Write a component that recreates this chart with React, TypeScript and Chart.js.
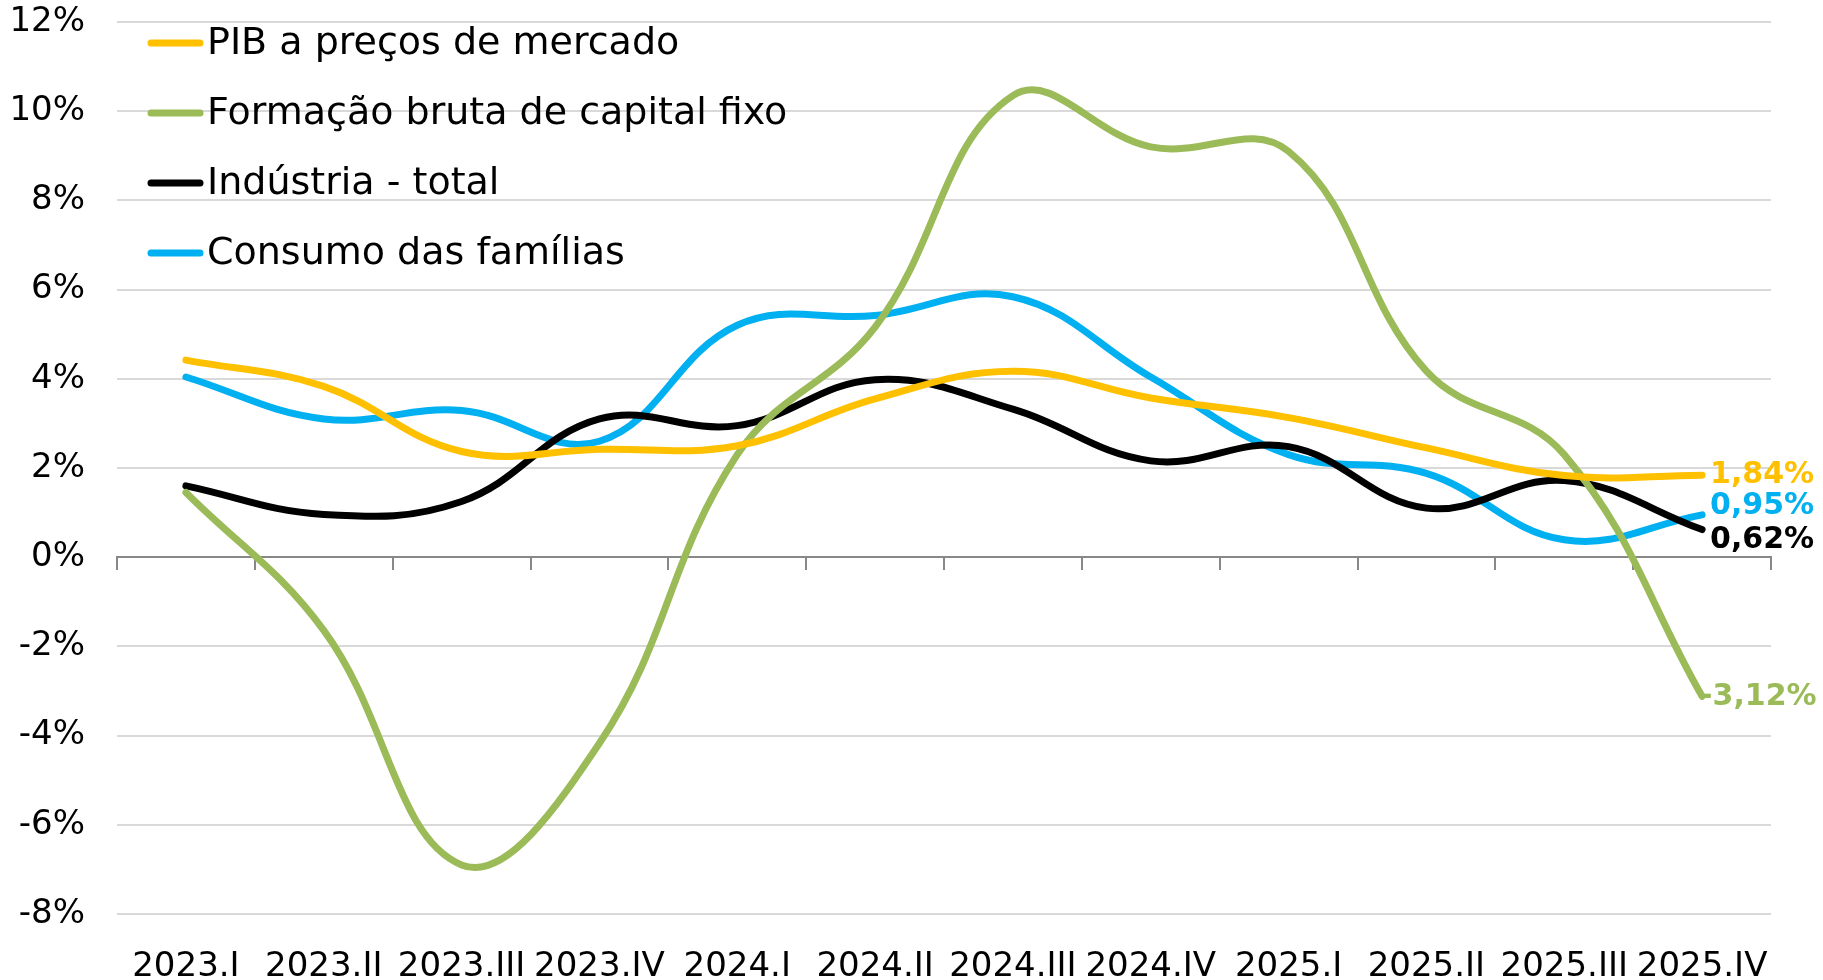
import React, { useEffect, useRef } from "react";
import { Chart, registerables } from "chart.js";

Chart.register(...registerables);

const categories = ["2023.I", "2023.II", "2023.III", "2023.IV", "2024.I", "2024.II", "2024.III", "2024.IV", "2025.I", "2025.II", "2025.III", "2025.IV"];
const pib = [4.42, 3.83, 2.37, 2.42, 2.5, 3.55, 4.17, 3.57, 3.13, 2.45, 1.83, 1.84];
const fbcf = [1.45, -1.64, -6.9, -4.17, 2.3, 5.16, 10.35, 9.2, 9.1, 4.17, 2.3, -3.12];
const industria = [1.6, 0.96, 1.25, 3.1, 2.95, 3.98, 3.32, 2.16, 2.48, 1.1, 1.72, 0.62];
const consumo = [4.04, 3.1, 3.29, 2.6, 5.2, 5.42, 5.84, 4.04, 2.3, 1.88, 0.39, 0.95];
const endLabels = ["1,84%", "-3,12%", "0,62%", "0,95%"];
const seriesNames = ["PIB a preços de mercado", "Formação bruta de capital fixo", "Indústria - total", "Consumo das famílias"];
const yTicks = [-8, -6, -4, -2, 0, 2, 4, 6, 8, 10, 12];

const colors = ["#FFC000", "#9BBB59", "#000000", "#00B0F0"];
const FONT = "'DejaVu Sans', sans-serif";

const legendPlugin = {
  id: "customLegend",
  afterDraw(chart: any) {
    const ctx = chart.ctx;
    ctx.save();
    chart.data.datasets.forEach((ds: any, i: number) => {
      const y = 43 + i * 70;
      ctx.strokeStyle = ds.borderColor;
      ctx.lineWidth = 7;
      ctx.lineCap = "round";
      ctx.beginPath();
      ctx.moveTo(151, y);
      ctx.lineTo(200, y);
      ctx.stroke();
      ctx.fillStyle = "#000";
      ctx.font = `38px ${FONT}`;
      ctx.textBaseline = "middle";
      ctx.textAlign = "left";
      ctx.fillText(ds.label, 207, y + 1);
    });
    ctx.restore();
  },
};

const endLabelOffsets = [0, 1, 11, -9];

const endLabelPlugin = {
  id: "endLabels",
  afterDatasetsDraw(chart: any) {
    const ctx = chart.ctx;
    ctx.save();
    chart.data.datasets.forEach((ds: any, i: number) => {
      const meta = chart.getDatasetMeta(i);
      const pt = meta.data[meta.data.length - 1];
      ctx.fillStyle = ds.borderColor;
      ctx.font = `bold 30px ${FONT}`;
      ctx.textBaseline = "middle";
      ctx.textAlign = "left";
      ctx.fillText(endLabels[i], pt.x + (i === 1 ? -2 : 8), pt.y + endLabelOffsets[i]);
    });
    ctx.restore();
  },
};

export default function App() {
  const ref = useRef<HTMLCanvasElement>(null);
  useEffect(() => {
    const series = [pib, fbcf, industria, consumo];
    const chart = new Chart(ref.current!, {
      type: "line",
      data: {
        labels: categories,
        datasets: series.map((d, i) => ({
          label: seriesNames[i],
          data: d,
          borderColor: colors[i],
          backgroundColor: colors[i],
          borderWidth: 7,
          pointRadius: 0,
          tension: 0.4,
          fill: false,
          borderCapStyle: "round" as const,
          borderJoinStyle: "round" as const,
          xAxisID: "x",
        })),
      },
      options: {
        animation: false,
        responsive: true,
        maintainAspectRatio: false,
        layout: { padding: { top: 0, right: 52, left: 0, bottom: 0 } },
        plugins: { legend: { display: false }, tooltip: { enabled: false } },
        scales: {
          x: {
            type: "category",
            position: "bottom",
            offset: true,
            grid: { display: false, drawTicks: false },
            border: { display: false },
            ticks: { color: "#000", font: { family: FONT, size: 34 }, padding: 33, maxRotation: 0, autoSkip: false },
            afterFit: (s: any) => { s.height = 66; },
          },
          x0: {
            type: "category",
            labels: categories,
            position: { y: 0 } as any,
            offset: true,
            grid: { offset: true, drawOnChartArea: false, drawTicks: true, tickLength: 12, color: "#888888", lineWidth: 2 },
            border: { display: true, color: "#888888", width: 2 },
            ticks: { display: false },
          },
          y: {
            min: -8,
            max: 12,
            afterBuildTicks: (s: any) => { s.ticks = yTicks.map((v) => ({ value: v })); },
            grid: { color: "#D9D9D9", lineWidth: 2, drawTicks: false },
            border: { display: false },
            ticks: { color: "#000", font: { family: FONT, size: 34 }, padding: 32, callback: (v: any) => `${v}%` },
            afterFit: (s: any) => { s.width = 117; s.paddingTop = 22; s.paddingBottom = 0; },
          },
        },
      },
      plugins: [legendPlugin, endLabelPlugin],
    });
    return () => chart.destroy();
  }, []);
  return (
    <div style={{ position: "fixed", left: 0, top: 0, width: 1823, height: 980, background: "#fff" }}>
      <canvas ref={ref} />
    </div>
  );
}
